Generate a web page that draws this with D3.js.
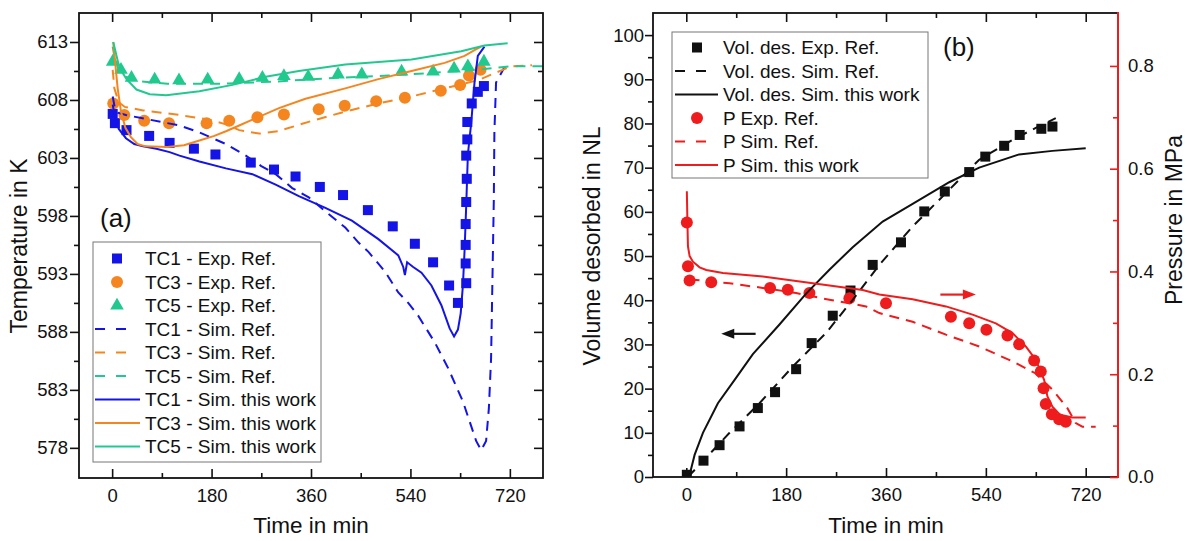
<!DOCTYPE html>
<html>
<head>
<meta charset="utf-8">
<script src="https://cdn.jsdelivr.net/npm/d3@7"></script>
<style>
  body { margin: 0; background: #fff; }
  svg { font-family: "Liberation Sans", Arial, sans-serif; }
  .tick text { fill: #111; }
</style>
</head>
<body>
<div id="chart"></div>
<script>
// ---- data: panel (a) temperatures, [time in min, T in K]
const tc1Exp = [[1,606.8],[5,606.0],[26,605.4],[67,604.9],[104,604.3],[148,603.8],[187,603.3],[251,602.6],[293,602.0],[332,601.4],[376,600.5],[418,599.8],[463,598.5],[508,597.1],[548,595.6],[581,594.0],[610,592.0],[626,590.5],[641,592.2],[640,593.9],[640,595.5],[640,597.3],[641,599.2],[642,601.2],[641,603.2],[643,604.6],[643,606.1],[651,607.7],[662,608.7],[673,609.2]];
const tc3Exp = [[2,607.7],[22,606.7],[58,606.2],[103,606.0],[171,606.0],[212,606.2],[263,606.5],[311,606.75],[374,607.2],[421,607.5],[478,607.9],[530,608.2],[595,608.8],[630,609.3],[646,610.1],[667,610.6]];
const tc5Exp = [[1,611.3],[16,610.6],[35,609.9],[77,609.75],[121,609.7],[173,609.75],[230,609.8],[272,609.9],[311,610.05],[355,610.0],[409,610.2],[452,610.2],[524,610.45],[581,610.45],[619,610.7],[644,610.9],[673,611.3]];

const tc1SimRef = [[1,608.3],[5,607.3],[10,606.9],[25,606.7],[68,606.3],[122,605.8],[158,605.2],[206,604.2],[242,603.2],[270,602.3],[296,601.6],[326,600.4],[356,599.6],[386,598.4],[422,597.0],[446,595.7],[464,594.9],[494,593.2],[518,591.4],[536,590.5],[554,589.4],[584,587.1],[608,584.9],[635,582.0],[659,578.6],[668,577.8],[677,578.6],[682,581.4],[686,585.7],[689,594.0],[691,599.5],[692,605.2],[695,609.5],[710,610.8],[720,610.9]];
const tc3SimRef = [[1,610.6],[4,609.0],[12,607.8],[23,607.4],[56,607.1],[116,606.75],[176,606.3],[206,605.9],[230,605.4],[266,605.1],[300,605.3],[362,606.2],[422,607.0],[482,607.7],[542,608.3],[602,609.0],[662,609.7],[692,610.3],[722,610.9],[760,611.0]];
const tc5SimRef = [[1,612.6],[5,611.5],[12,610.6],[25,610.0],[50,609.6],[100,609.4],[200,609.4],[300,609.6],[400,609.9],[500,610.1],[600,610.4],[660,610.6],[700,610.8],[720,610.9],[780,610.9]];

const tc1Sim = [[1,607.6],[5,606.5],[12,605.5],[25,604.7],[40,604.2],[56,604.0],[80,603.8],[104,603.5],[122,603.2],[158,602.7],[206,602.1],[254,601.6],[296,600.7],[338,599.7],[386,598.7],[434,597.6],[482,596.0],[518,594.6],[527,593.6],[530,592.9],[534,594.0],[545,593.6],[560,593.1],[578,592.0],[596,590.3],[611,588.3],[619,587.6],[626,588.2],[631,589.6],[635,592.0],[638,595.0],[641,598.9],[644,603.3],[650,606.0],[656,609.5],[662,611.8],[674,612.6]];
const tc3Sim = [[2,613.0],[5,611.5],[10,609.0],[16,607.0],[24,605.6],[34,604.8],[46,604.2],[60,604.0],[100,603.95],[130,604.1],[158,604.5],[185,604.9],[206,605.3],[230,605.8],[254,606.3],[302,607.3],[350,608.1],[422,609.0],[482,609.8],[542,610.5],[602,611.2],[638,611.8],[656,612.3],[668,612.6]];
const tc5Sim = [[2,613.0],[6,612.2],[11,611.2],[18,610.4],[26,609.8],[44,608.9],[68,608.5],[98,608.4],[158,608.75],[218,609.3],[278,610.0],[338,610.5],[422,611.05],[542,611.5],[632,612.2],[674,612.7],[716,612.9]];

// ---- data: panel (b) volume [min, NL] and pressure [min, MPa]
const volExp = [[1,0.5],[31,3.7],[60,7.2],[96,11.45],[129,15.6],[160,19.2],[198,24.4],[226,30.3],[264,36.5],[296,42.2],[336,48.0],[387,53.1],[429,60.1],[466,64.6],[510,69.0],[539,72.5],[573,74.95],[601,77.4],[640,78.8],[660,79.3]];
const volSimRef = [[3,0],[21,2.4],[78,10],[132,16.7],[192,25],[252,32.6],[300,40.1],[348,48],[408,56.7],[468,64.25],[528,71.8],[588,76.3],[630,79.0],[666,81.2]];
const volSim = [[5,0],[15,5],[30,10],[57,16.7],[90,22.5],[120,27.8],[168,34.5],[216,41.5],[258,46.9],[300,52],[354,57.8],[408,61.8],[474,66.7],[528,70],[600,73],[660,73.8],[720,74.4]];
const pExp = [[1,0.4955],[3,0.41],[6,0.3825],[45,0.379],[151,0.3676],[183,0.3643],[222,0.358],[294,0.348],[360,0.338],[477,0.312],[510,0.2994],[541,0.2864],[579,0.2753],[600,0.2585],[627,0.2266],[639,0.2051],[644,0.1728],[648,0.1422],[659,0.1221],[672,0.1124],[684,0.1077]];
const pSimRef = [[1,0.42],[3,0.395],[12,0.384],[78,0.377],[138,0.368],[198,0.358],[258,0.345],[324,0.332],[348,0.319],[408,0.302],[468,0.277],[528,0.254],[588,0.225],[629,0.202],[660,0.17],[687,0.134],[702,0.105],[714,0.098],[738,0.098]];
const pSim = [[1,0.556],[2,0.50],[3,0.449],[6,0.43],[12,0.419],[24,0.408],[36,0.403],[66,0.397],[138,0.390],[228,0.377],[318,0.364],[348,0.355],[408,0.346],[468,0.332],[516,0.316],[558,0.299],[588,0.28],[612,0.254],[630,0.228],[645,0.189],[651,0.157],[660,0.137],[674,0.121],[696,0.116],[720,0.116]];

// ---- ticks
const timeTicks = [0, 180, 360, 540, 720];
const timeMinor = [90, 270, 450, 630];
const tempTicks = [578, 583, 588, 593, 598, 603, 608, 613];
const tempMinor = [580.5, 585.5, 590.5, 595.5, 600.5, 605.5, 610.5];
const volTicks = d3.range(0, 101, 10);
const volMinor = d3.range(5, 101, 10);
const presTicks = [0, 0.2, 0.4, 0.6, 0.8];
const presMinor = [0.1, 0.3, 0.5, 0.7];

const legendA = ["TC1 - Exp. Ref.", "TC3 - Exp. Ref.", "TC5 - Exp. Ref.", "TC1 - Sim. Ref.", "TC3 - Sim. Ref.", "TC5 - Sim. Ref.", "TC1 - Sim. this work", "TC3 - Sim. this work", "TC5 - Sim. this work"];
const legendB = ["Vol. des. Exp. Ref.", "Vol. des. Sim. Ref.", "Vol. des. Sim. this work", "P Exp. Ref.", "P Sim. Ref.", "P Sim. this work"];

const BLUE = "#1414e6", ORANGE = "#f5861f", GREEN = "#22c98f", RED = "#ee1c1c", BLACK = "#111";

const svg = d3.select("#chart").append("svg")
  .attr("width", 1187).attr("height", 541);

// scales
const xA = d3.scaleLinear().domain([-60, 780]).range([79, 543]);
const yA = d3.scaleLinear().domain([575.4, 615.5]).range([478, 13]);
const xB = d3.scaleLinear().domain([-60, 780]).range([653, 1119]);
const yV = d3.scaleLinear().domain([0, 105]).range([477, 13]);
const yP = d3.scaleLinear().domain([0, 0.903]).range([477, 13]);

const gA = svg.append("g");
const gB = svg.append("g");

// clip so lines stay in frame
const defs = svg.append("defs");
defs.append("clipPath").attr("id", "clipA").append("rect").attr("x", 79).attr("y", 13).attr("width", 464).attr("height", 465);
defs.append("clipPath").attr("id", "clipB").append("rect").attr("x", 653).attr("y", 13).attr("width", 465).attr("height", 464);

function axisStyle(g, fs) {
  g.select(".domain").remove();
  g.selectAll(".tick line").attr("stroke", BLACK).attr("stroke-width", 1.6);
  g.selectAll(".tick text").attr("font-size", fs);
}

// ---------------- panel (a) ----------------
const fsTick = 18.5;
let ax = gA.append("g").attr("transform", "translate(79,0)")
  .call(d3.axisLeft(yA).tickValues(tempTicks).tickSize(9).tickPadding(2).tickFormat(d3.format("d")));
axisStyle(ax, fsTick);
ax = gA.append("g").attr("transform", "translate(79,0)")
  .call(d3.axisLeft(yA).tickValues(tempMinor).tickSize(5).tickFormat(""));
axisStyle(ax, fsTick);
ax = gA.append("g").attr("transform", "translate(543,0)")
  .call(d3.axisLeft(yA).tickValues(tempTicks).tickSize(9).tickFormat(""));
axisStyle(ax, fsTick);
ax = gA.append("g").attr("transform", "translate(543,0)")
  .call(d3.axisLeft(yA).tickValues(tempMinor).tickSize(5).tickFormat(""));
axisStyle(ax, fsTick);
ax = gA.append("g").attr("transform", "translate(0,478)")
  .call(d3.axisBottom(xA).tickValues(timeTicks).tickSize(-9).tickPadding(11));
axisStyle(ax, fsTick);
ax = gA.append("g").attr("transform", "translate(0,478)")
  .call(d3.axisBottom(xA).tickValues(timeMinor).tickSize(-5).tickFormat(""));
axisStyle(ax, fsTick);
ax = gA.append("g").attr("transform", "translate(0,13)")
  .call(d3.axisBottom(xA).tickValues(timeTicks).tickSize(9).tickFormat(""));
axisStyle(ax, fsTick);
ax = gA.append("g").attr("transform", "translate(0,13)")
  .call(d3.axisBottom(xA).tickValues(timeMinor).tickSize(5).tickFormat(""));
axisStyle(ax, fsTick);

const plotA = gA.append("g").attr("clip-path", "url(#clipA)");
const lineA = d3.line().x(d => xA(d[0])).y(d => yA(d[1]));

// markers
plotA.selectAll(".sq").data(tc1Exp).enter().append("rect")
  .attr("x", d => xA(d[0]) - 5).attr("y", d => yA(d[1]) - 5)
  .attr("width", 10).attr("height", 10).attr("fill", BLUE);
plotA.selectAll(".ci").data(tc3Exp).enter().append("circle")
  .attr("cx", d => xA(d[0])).attr("cy", d => yA(d[1])).attr("r", 6).attr("fill", ORANGE);
const tri = d3.symbol().type(d3.symbolTriangle).size(80);
plotA.selectAll(".tr").data(tc5Exp).enter().append("path")
  .attr("d", tri).attr("transform", d => `translate(${xA(d[0])},${yA(d[1])})`).attr("fill", GREEN);

// lines
[[tc1SimRef, BLUE, true], [tc3SimRef, ORANGE, true], [tc5SimRef, GREEN, true],
 [tc1Sim, BLUE, false], [tc3Sim, ORANGE, false], [tc5Sim, GREEN, false]].forEach(([data, col, dash]) => {
  plotA.append("path").datum(data).attr("d", lineA)
    .attr("fill", "none").attr("stroke", col).attr("stroke-width", 2)
    .attr("stroke-dasharray", dash ? "10,7" : null);
});

gA.append("rect").attr("x", 79).attr("y", 13).attr("width", 464).attr("height", 465)
  .attr("fill", "none").attr("stroke", BLACK).attr("stroke-width", 1.8);

gA.append("text").attr("x", 100).attr("y", 227).attr("font-size", 26).attr("fill", BLACK).text("(a)");

// legend (a)
const legA = gA.append("g");
legA.append("rect").attr("x", 93).attr("y", 242).attr("width", 228).attr("height", 220)
  .attr("fill", "#fff").attr("stroke", "#777").attr("stroke-width", 1);
const colsA = [BLUE, ORANGE, GREEN];
legendA.forEach((txt, i) => {
  const cy = 258.5 + i * 23.5, col = colsA[i % 3];
  if (i < 3) {
    if (i === 0) legA.append("rect").attr("x", 112).attr("y", cy - 5).attr("width", 10).attr("height", 10).attr("fill", col);
    if (i === 1) legA.append("circle").attr("cx", 117).attr("cy", cy).attr("r", 6).attr("fill", col);
    if (i === 2) legA.append("path").attr("d", tri).attr("transform", `translate(117,${cy})`).attr("fill", col);
  } else if (i < 6) {
    legA.append("line").attr("x1", 95).attr("x2", 127).attr("y1", cy).attr("y2", cy)
      .attr("stroke", col).attr("stroke-width", 2).attr("stroke-dasharray", "10,11");
  } else {
    legA.append("line").attr("x1", 95).attr("x2", 140).attr("y1", cy).attr("y2", cy)
      .attr("stroke", col).attr("stroke-width", 2);
  }
  legA.append("text").attr("x", 145).attr("y", cy).attr("dy", "0.36em")
    .attr("font-size", 19).attr("fill", BLACK).text(txt);
});

gA.append("text").attr("transform", "translate(27,246) rotate(-90)")
  .attr("text-anchor", "middle").attr("font-size", 23).attr("fill", BLACK).text("Temperature in K");
gA.append("text").attr("x", 311).attr("y", 533)
  .attr("text-anchor", "middle").attr("font-size", 22.5).attr("fill", BLACK).text("Time in min");

// ---------------- panel (b) ----------------
ax = gB.append("g").attr("transform", "translate(653,0)")
  .call(d3.axisLeft(yV).tickValues(volTicks).tickSize(8).tickPadding(1));
axisStyle(ax, fsTick);
ax = gB.append("g").attr("transform", "translate(653,0)")
  .call(d3.axisLeft(yV).tickValues(volMinor).tickSize(5).tickFormat(""));
axisStyle(ax, fsTick);
ax = gB.append("g").attr("transform", "translate(0,477)")
  .call(d3.axisBottom(xB).tickValues(timeTicks).tickSize(-9).tickPadding(11));
axisStyle(ax, fsTick);
ax = gB.append("g").attr("transform", "translate(0,477)")
  .call(d3.axisBottom(xB).tickValues(timeMinor).tickSize(-5).tickFormat(""));
axisStyle(ax, fsTick);
ax = gB.append("g").attr("transform", "translate(0,13)")
  .call(d3.axisBottom(xB).tickValues(timeTicks).tickSize(9).tickFormat(""));
axisStyle(ax, fsTick);
ax = gB.append("g").attr("transform", "translate(0,13)")
  .call(d3.axisBottom(xB).tickValues(timeMinor).tickSize(5).tickFormat(""));
axisStyle(ax, fsTick);

const plotB = gB.append("g").attr("clip-path", "url(#clipB)");
const lineV = d3.line().x(d => xB(d[0])).y(d => yV(d[1]));
const lineP = d3.line().x(d => xB(d[0])).y(d => yP(d[1]));

plotB.selectAll(".vsq").data(volExp).enter().append("rect")
  .attr("x", d => xB(d[0]) - 5).attr("y", d => yV(d[1]) - 5)
  .attr("width", 10).attr("height", 10).attr("fill", BLACK);
plotB.selectAll(".pci").data(pExp).enter().append("circle")
  .attr("cx", d => xB(d[0])).attr("cy", d => yP(d[1])).attr("r", 6).attr("fill", RED);

plotB.append("path").datum(volSimRef).attr("d", lineV).attr("fill", "none")
  .attr("stroke", BLACK).attr("stroke-width", 2).attr("stroke-dasharray", "10,7");
plotB.append("path").datum(volSim).attr("d", lineV).attr("fill", "none")
  .attr("stroke", BLACK).attr("stroke-width", 2);
plotB.append("path").datum(pSimRef).attr("d", lineP).attr("fill", "none")
  .attr("stroke", RED).attr("stroke-width", 2).attr("stroke-dasharray", "10,7");
plotB.append("path").datum(pSim).attr("d", lineP).attr("fill", "none")
  .attr("stroke", RED).attr("stroke-width", 2);

// arrows
function arrow(x1, x2, y, col) {
  const dir = Math.sign(x2 - x1);
  gB.append("line").attr("x1", x1).attr("x2", x2 - dir * 8).attr("y1", y).attr("y2", y)
    .attr("stroke", col).attr("stroke-width", 2.2);
  gB.append("path").attr("d", `M${x2},${y} L${x2 - dir * 13},${y - 5} L${x2 - dir * 13},${y + 5} Z`).attr("fill", col);
}
arrow(xB(125), xB(63), yV(32.4), BLACK);
arrow(xB(458), xB(522), yP(0.355), RED);

gB.append("rect").attr("x", 653).attr("y", 13).attr("width", 465).attr("height", 464)
  .attr("fill", "none").attr("stroke", BLACK).attr("stroke-width", 1.8);

// right pressure axis (red)
ax = gB.append("g").attr("transform", "translate(1118,0)")
  .call(d3.axisRight(yP).tickValues(presTicks).tickSize(-8).tickPadding(10).tickFormat(d3.format(".1f")));
ax.select(".domain").remove();
ax.selectAll(".tick line").attr("stroke", RED).attr("stroke-width", 1.6);
ax.selectAll(".tick text").attr("font-size", fsTick);
ax = gB.append("g").attr("transform", "translate(1118,0)")
  .call(d3.axisRight(yP).tickValues(presMinor).tickSize(-5).tickFormat(""));
ax.select(".domain").remove();
ax.selectAll(".tick line").attr("stroke", RED).attr("stroke-width", 1.6);
gB.append("line").attr("x1", 1118).attr("x2", 1118).attr("y1", 12).attr("y2", 478)
  .attr("stroke", RED).attr("stroke-width", 2);

gB.append("text").attr("x", 943).attr("y", 56).attr("font-size", 26).attr("fill", BLACK).text("(b)");

// legend (b)
const legB = gB.append("g");
legB.append("rect").attr("x", 672).attr("y", 32).attr("width", 256).attr("height", 146)
  .attr("fill", "#fff").attr("stroke", "#777").attr("stroke-width", 1);
legendB.forEach((txt, i) => {
  const cy = 47.5 + i * 23.5, col = i < 3 ? BLACK : RED, k = i % 3;
  if (k === 0) {
    if (i === 0) legB.append("rect").attr("x", 692).attr("y", cy - 5).attr("width", 10).attr("height", 10).attr("fill", col);
    else legB.append("circle").attr("cx", 697).attr("cy", cy).attr("r", 6).attr("fill", col);
  } else if (k === 1) {
    legB.append("line").attr("x1", 675).attr("x2", 707).attr("y1", cy).attr("y2", cy)
      .attr("stroke", col).attr("stroke-width", 2).attr("stroke-dasharray", "10,11");
  } else {
    legB.append("line").attr("x1", 675).attr("x2", 718).attr("y1", cy).attr("y2", cy)
      .attr("stroke", col).attr("stroke-width", 2);
  }
  legB.append("text").attr("x", 723).attr("y", cy).attr("dy", "0.36em")
    .attr("font-size", 19).attr("fill", BLACK).text(txt);
});

gB.append("text").attr("transform", "translate(600,246) rotate(-90)")
  .attr("text-anchor", "middle").attr("font-size", 23).attr("fill", BLACK).text("Volume desorbed in NL");
gB.append("text").attr("transform", "translate(1182,220) rotate(-90)")
  .attr("text-anchor", "middle").attr("font-size", 23).attr("fill", BLACK).text("Pressure in MPa");
gB.append("text").attr("x", 886).attr("y", 533)
  .attr("text-anchor", "middle").attr("font-size", 22.5).attr("fill", BLACK).text("Time in min");
</script>
</body>
</html>
